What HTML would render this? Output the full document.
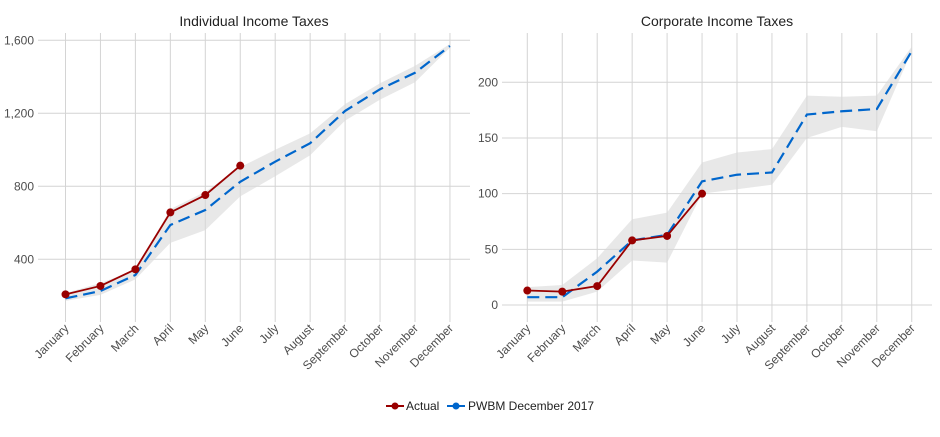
<!DOCTYPE html>
<html><head><meta charset="utf-8"><style>
body{margin:0;background:#fff;}
svg text{font-family:"Liberation Sans",sans-serif;}
</style></head><body>
<svg id="chart" width="940" height="432" xmlns="http://www.w3.org/2000/svg"></svg>
<script>
const months=["January","February","March","April","May","June","July","August","September","October","November","December"];
const indActual=[208,254,345,657,752,913];
const indForecast=[186,226,314,588,670,825,935,1036,1213,1332,1422,1569];
const indLower=[172,205,290,490,560,745,855,970,1160,1275,1370,1560];
const indUpper=[215,270,340,675,770,905,1000,1090,1250,1365,1460,1580];
const indTicks=[400,800,1200,1600];
const corpActual=[13,12,17,58,62,100];
const corpForecast=[7,7,30,58,63,111,117,119,171,174,176,228];
const corpLower=[3,3,12,40,38,100,104,108,150,160,156,228];
const corpUpper=[16,18,42,77,83,128,137,140,188,187,188,232];
const corpTicks=[0,50,100,150,200];

const NS="http://www.w3.org/2000/svg";
const svg=document.getElementById('chart');
function mk(tag,attrs,parent){const e=document.createElementNS(NS,tag);for(const k in attrs)e.setAttribute(k,attrs[k]);(parent||svg).appendChild(e);return e;}

function panel(opt){
  const g=mk('g',{});
  
  
  const x=i=>opt.x0+i*opt.step;
  const y=v=>opt.yTop+(opt.dMax-v)/(opt.dMax-opt.dMin)*(opt.yBot-opt.yTop);
  // grid
  opt.ticks.forEach(t=>{
    const l=mk('line',{x1:opt.left,x2:opt.right,y1:y(t),y2:y(t),stroke:'#d4d4d4','stroke-width':1},g);
    
    
    const tx=mk('text',{x:opt.left-4,y:y(t)+4,'text-anchor':'end','font-size':12,fill:'#4d4d4d'},g);
    tx.textContent=t.toLocaleString('en-US');
    
    
  });
  months.forEach((m,i)=>{
    const l=mk('line',{x1:x(i),x2:x(i),y1:opt.top,y2:opt.yBot+5,stroke:'#d4d4d4','stroke-width':1},g);
    
    
    const tx=mk('text',{x:x(i)+4,y:opt.yBot+12,'text-anchor':'end','font-size':12,fill:'#4d4d4d',transform:`rotate(-45 ${x(i)+4} ${opt.yBot+12})`},g);
    tx.textContent=m;
    
    
  });
  // band
  let pts=opt.upper.map((v,i)=>x(i)+','+y(v));
  pts=pts.concat(opt.lower.map((v,i)=>x(i)+','+y(v)).reverse());
  const band=mk('polygon',{points:pts.join(' '),fill:'#d9d9d9','fill-opacity':0.6},g);
  
  
  const fl=mk('polyline',{points:opt.forecast.map((v,i)=>x(i)+','+y(v)).join(' '),fill:'none',stroke:'#0066cc','stroke-width':2.2,'stroke-dasharray':'12,6'},g);
  
  
  const al=mk('polyline',{points:opt.actual.map((v,i)=>x(i)+','+y(v)).join(' '),fill:'none',stroke:'#990000','stroke-width':1.8},g);
  
  
  opt.actual.forEach((v,i)=>{
    const c=mk('circle',{cx:x(i),cy:y(v),r:4,fill:'#990000'},g);
    
    
  });
  const t=mk('text',{x:(opt.left+opt.right)/2,y:26,'text-anchor':'middle','font-size':14,fill:'#222'},g);
  t.textContent=opt.title;
  
  
}
panel({name:'individual-income-panel',title:'Individual Income Taxes',x0:65.5,step:34.95,left:38,right:470,top:33,
  yTop:40.3,yBot:317,dMax:1600,dMin:1600-(317-40.3)/73*400,ticks:indTicks,
  actual:indActual,forecast:indForecast,lower:indLower,upper:indUpper});
panel({name:'corporate-income-panel',title:'Corporate Income Taxes',x0:527.3,step:34.95,left:502,right:932,top:33,
  yTop:82.3,yBot:317,dMax:200,dMin:200-(317-82.3)/222.7*200,ticks:corpTicks,
  actual:corpActual,forecast:corpForecast,lower:corpLower,upper:corpUpper});
// legend
const lg=mk('g',{});


[[386,'#990000','Actual',408],[447,'#0066cc','PWBM December 2017',470]].forEach(([lx,col,lab,tx])=>{
  const e=mk('g',{},lg);
  
  
  mk('line',{x1:lx,x2:lx+18,y1:406,y2:406,stroke:col,'stroke-width':2},e);
  mk('circle',{cx:lx+9,cy:406,r:3.5,fill:col},e);
  const t=mk('text',{x:tx-2,y:410,'font-size':12,fill:'#222'},e);
  t.textContent=lab;
});
</script>
</body></html>
